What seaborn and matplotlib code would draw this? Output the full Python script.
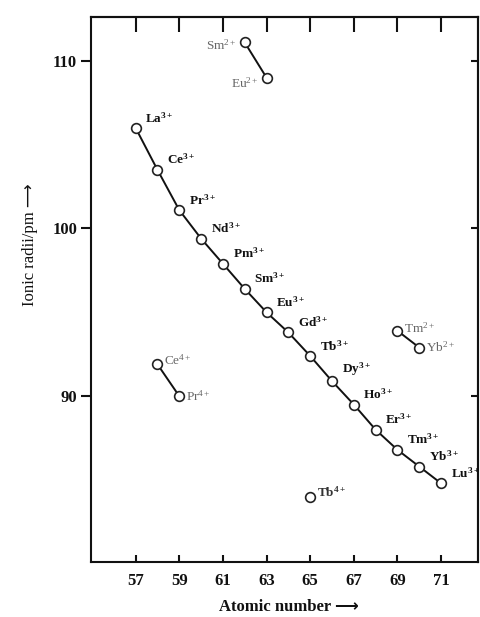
import matplotlib
matplotlib.use("Agg")
import matplotlib.pyplot as plt
import seaborn as sns
import pandas as pd

# ---- data ----
ln3_z = [57, 58, 59, 60, 61, 62, 63, 64, 65, 66, 67, 68, 69, 70, 71]
ln3_r = [106.0, 103.5, 101.1, 99.4, 97.9, 96.4, 95.0, 93.8, 92.4, 90.9, 89.5, 88.0, 86.8, 85.8, 84.8]
ln3_sym = ["La", "Ce", "Pr", "Nd", "Pm", "Sm", "Eu", "Gd", "Tb", "Dy", "Ho", "Er", "Tm", "Yb", "Lu"]

ln2_z = [62, 63]
ln2_r = [111.1, 109.0]
ln2_sym = ["Sm", "Eu"]

ce_pr_z = [58, 59]
ce_pr_r = [91.9, 90.0]
ce_pr_sym = ["Ce", "Pr"]

tm_yb_z = [69, 70]
tm_yb_r = [93.9, 92.9]
tm_yb_sym = ["Tm", "Yb"]

tb4_z = [65]
tb4_r = [84.0]

x_ticks = [57, 59, 61, 63, 65, 67, 69, 71]
y_ticks = [90, 100, 110]

# ---- style ----
sns.set_style("ticks")
plt.rcParams["font.family"] = ["Liberation Serif", "DejaVu Sans"]
plt.rcParams["mathtext.fontset"] = "custom"
plt.rcParams["mathtext.rm"] = "Liberation Serif"
plt.rcParams["mathtext.bf"] = "Liberation Serif:bold"
plt.rcParams["mathtext.it"] = "Liberation Serif:italic"

fig = plt.figure(figsize=(4.81, 6.17), dpi=100)
ax = fig.add_axes([0.189, 0.089, 0.805, 0.883])

mk = dict(marker="o", markersize=7, markerfacecolor="white", markeredgecolor="#222222",
          markeredgewidth=1.2, color="#111111", linewidth=1.4)

df3 = pd.DataFrame({"z": ln3_z, "r": ln3_r})
sns.lineplot(data=df3, x="z", y="r", ax=ax, **mk)
sns.lineplot(data=pd.DataFrame({"z": ln2_z, "r": ln2_r}), x="z", y="r", ax=ax, **mk)
sns.lineplot(data=pd.DataFrame({"z": ce_pr_z, "r": ce_pr_r}), x="z", y="r", ax=ax, **mk)
sns.lineplot(data=pd.DataFrame({"z": tm_yb_z, "r": tm_yb_r}), x="z", y="r", ax=ax, **mk)
sns.lineplot(data=pd.DataFrame({"z": tb4_z, "r": tb4_r}), x="z", y="r", ax=ax, **mk)

fs = 9.5
# labels for Ln3+
for z, r, s in zip(ln3_z, ln3_r, ln3_sym):
    ax.annotate(r"$\mathbf{%s}^{\mathbf{3+}}$" % s, (z, r), xytext=(7, 2),
                textcoords="offset points", fontsize=fs, color="#111111",
                ha="left", va="bottom")

grey = "#666666"
ax.annotate(r"$\mathrm{Sm}^{2+}$", (ln2_z[0], ln2_r[0]), xytext=(-6, -2),
            textcoords="offset points", fontsize=fs, color=grey, ha="right", va="center")
ax.annotate(r"$\mathrm{Eu}^{2+}$", (ln2_z[1], ln2_r[1]), xytext=(-6, -4),
            textcoords="offset points", fontsize=fs, color=grey, ha="right", va="center")
ax.annotate(r"$\mathrm{Ce}^{4+}$", (ce_pr_z[0], ce_pr_r[0]), xytext=(5, 3),
            textcoords="offset points", fontsize=fs, color=grey, ha="left", va="center")
ax.annotate(r"$\mathrm{Pr}^{4+}$", (ce_pr_z[1], ce_pr_r[1]), xytext=(5, 0),
            textcoords="offset points", fontsize=fs, color=grey, ha="left", va="center")
ax.annotate(r"$\mathrm{Tm}^{2+}$", (tm_yb_z[0], tm_yb_r[0]), xytext=(5, 2),
            textcoords="offset points", fontsize=fs, color=grey, ha="left", va="center")
ax.annotate(r"$\mathrm{Yb}^{2+}$", (tm_yb_z[1], tm_yb_r[1]), xytext=(5, 0),
            textcoords="offset points", fontsize=fs, color=grey, ha="left", va="center")
ax.annotate(r"$\mathbf{Tb}^{\mathbf{4+}}$", (tb4_z[0], tb4_r[0]), xytext=(5, 3),
            textcoords="offset points", fontsize=fs, color="#333333", ha="left", va="center")

ax.set_xlim(54.95, 72.7)
ax.set_ylim(80.1, 112.6)
ax.set_xticks(x_ticks)
ax.set_yticks(y_ticks)
ax.set_xlabel("")
ax.set_ylabel("")

for sp in ax.spines.values():
    sp.set_visible(True)
    sp.set_linewidth(1.5)
    sp.set_color("#111111")

ax.tick_params(axis="x", direction="in", length=5, width=1.5, labelsize=12, pad=8,
               colors="#111111")
ax.tick_params(axis="y", direction="out", length=7, width=1.5, labelsize=12, pad=3,
               colors="#111111")
for lab in ax.get_xticklabels() + ax.get_yticklabels():
    lab.set_fontweight("bold")

sx = ax.secondary_xaxis("top")
sx.set_xticks(x_ticks)
sx.tick_params(axis="x", direction="in", length=11, width=1.5, labeltop=False, colors="#111111")
sx.spines["top"].set_linewidth(1.5)

sy = ax.secondary_yaxis("right")
sy.set_yticks(y_ticks)
sy.tick_params(axis="y", direction="in", length=5, width=1.5, labelright=False, colors="#111111")
sy.spines["right"].set_linewidth(1.5)

fig.text(0.062, 0.603, "Ionic radii/pm \u27f6", rotation=90, fontsize=12,
         ha="center", va="center", color="#111111")
fig.text(0.60, 0.017, "Atomic number \u27f6", fontsize=12, fontweight="bold",
         ha="center", va="center", color="#111111")

fig.savefig("out.png", dpi=100, facecolor="white")
